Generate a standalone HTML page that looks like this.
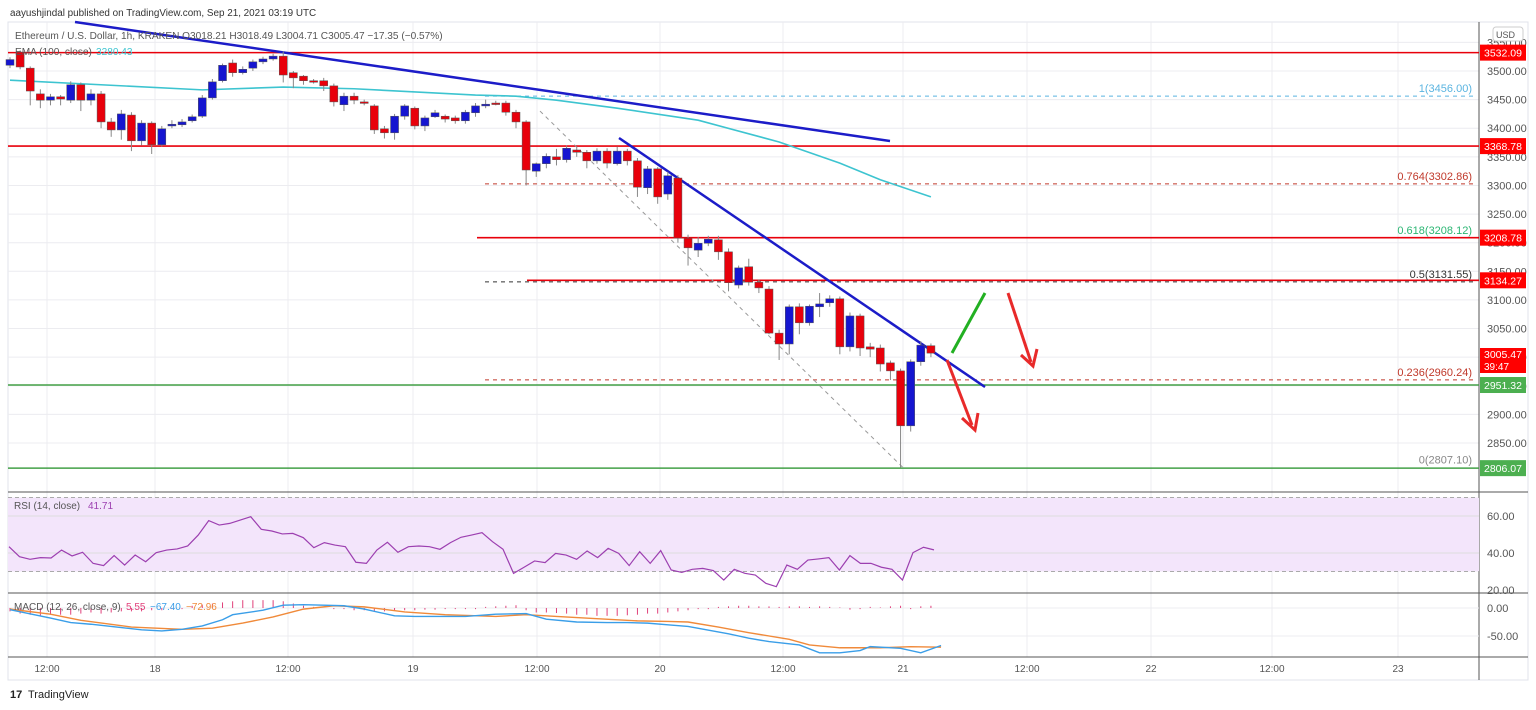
<!DOCTYPE html>
<html><head><meta charset="utf-8"><style>
body{margin:0;background:#fff;font-family:"Liberation Sans",sans-serif;}
svg{display:block}
text{font-family:"Liberation Sans",sans-serif;}
</style></head><body>
<svg id="c" width="1536" height="710" viewBox="0 0 1536 710"></svg>
<script>
const opens=[3510,3533,3505,3460,3449,3455,3449,3476,3449,3460,3411,3397,3423,3378,3409,3371,3404,3406,3413,3421,3453,3483,3514,3497,3505,3516,3521,3526,3497,3491,3483,3483,3474,3441,3456,3446,3439,3399,3392,3421,3435,3404,3420,3421,3418,3413,3427,3439,3444,3444,3428,3411,3325,3338,3350,3345,3362,3358,3343,3360,3338,3360,3343,3296,3329,3285,3313,3208,3187,3199,3205,3184,3126,3158,3131,3119,3042,3023,3088,3060,3088,3095,3102,3018,3072,3018,3016,2990,2976,2880,2992,3020];
const closes=[3520,3507,3465,3449,3455,3451,3476,3449,3460,3411,3397,3425,3378,3409,3371,3399,3407,3411,3420,3453,3481,3510,3497,3503,3516,3521,3526,3493,3488,3483,3482,3474,3446,3456,3449,3445,3397,3392,3421,3439,3404,3418,3427,3416,3413,3428,3439,3442,3443,3428,3411,3327,3338,3351,3345,3365,3358,3343,3360,3339,3360,3343,3297,3329,3280,3317,3208,3191,3199,3206,3184,3130,3156,3131,3121,3042,3023,3088,3060,3089,3093,3102,3018,3072,3016,3014,2988,2976,2880,2992,3021,3007];
const highs=[3524,3536,3508,3468,3460,3458,3482,3480,3468,3465,3418,3432,3428,3414,3412,3404,3414,3416,3424,3458,3486,3513,3520,3508,3520,3525,3530,3534,3500,3493,3486,3488,3478,3462,3462,3450,3442,3404,3425,3442,3438,3422,3432,3424,3422,3432,3444,3450,3448,3448,3432,3414,3340,3356,3364,3370,3368,3362,3365,3365,3368,3364,3348,3334,3332,3324,3318,3214,3210,3212,3212,3190,3160,3172,3136,3124,3048,3092,3094,3092,3112,3108,3106,3078,3076,3025,3022,2994,2980,2996,3028,3024];
const lows=[3505,3503,3440,3435,3440,3440,3444,3430,3440,3400,3385,3380,3360,3370,3355,3368,3400,3402,3410,3418,3450,3480,3490,3494,3500,3512,3518,3480,3470,3476,3478,3465,3438,3430,3442,3440,3390,3382,3380,3415,3398,3395,3418,3410,3408,3408,3420,3435,3440,3422,3400,3300,3315,3330,3335,3340,3350,3330,3338,3330,3335,3335,3280,3285,3268,3275,3200,3160,3175,3194,3170,3115,3120,3125,3112,3040,2995,3005,3040,3055,3070,3088,3005,3010,3002,3000,2975,2960,2807,2870,2985,3000];
const emaIdx=[0,19,27,34,46,50,54,60,68,76,82,86,91];
const emaVals=[3484,3467,3472,3469,3458,3456,3449,3435,3414,3376,3339,3310,3280];
const rsiVals=[43.4,38.0,36.6,37.5,37.3,41.6,38.4,40.4,34.4,33.2,38.6,33.5,38.9,35.3,40.2,41.6,42.2,43.8,49.7,57.5,55.1,56.0,57.8,59.6,52.8,51.9,50.3,50.6,48.3,42.9,45.6,44.3,43.4,35.0,34.4,41.6,45.8,40.4,43.4,43.8,43.4,42.0,45.6,48.5,49.7,51.0,46.1,42.0,29.0,32.3,35.7,34.8,39.8,38.9,36.6,41.1,37.5,42.5,39.8,33.2,40.7,34.4,41.3,30.8,29.5,31.2,31.7,30.5,25.4,31.2,29.0,28.1,23.6,21.8,33.5,31.2,36.2,36.8,37.5,30.8,38.6,34.4,34.4,32.3,31.2,25.4,40.2,43.1,41.7];
const macdIdx=[0,4,6,8,11,13,15,17,19,21,22,25,27,29,31,33,35,38,40,42,45,48,51,53,56,59,61,63,65,67,71,73,75,78,80,82,84,85,88,90,92];
const macdVals=[-3,-18,-26,-29,-35,-39,-41,-38,-32,-21,-12,-4,5,6,5,4,-2,-14,-15,-15,-15,-11,-10,-20,-25,-26,-26,-27,-30,-33,-46,-54,-60,-66,-80,-80,-76,-69,-72,-80,-67];
const sigIdx=[0,4,7,12,17,20,23,26,29,32,35,39,43,48,51,54,58,62,65,67,70,73,77,79,82,86,89,92];
const sigVals=[-2,-11,-22,-34,-38,-36,-27,-16,-2,4,2,-7,-12,-15,-12,-15,-19,-23,-24,-25,-34,-44,-56,-66,-71,-71,-69,-70];
const histVals=[-6,-10,-12,-14,-12,-12,-12,-10,-8,-10,-8,-6,-6,-6,-4,-4,-2,-2,4,6,8,10,12,14,14,14,14,12,8,4,2,0,-2,-2,-4,-4,-6,-6,-4,-4,-4,-3,-3,-2,-2,-2,-2,2,3,4,5,-4,-8,-8,-9,-10,-12,-12,-14,-14,-14,-13,-12,-10,-10,-8,-6,-4,-2,-2,2,3,4,4,3,3,2,3,3,2,3,2,1,-3,-2,2,1,3,4,-2,3,4];
const priceTicks=[3550,3500,3450,3400,3350,3300,3250,3200,3150,3100,3050,3000,2950,2900,2850];
const timeLabels=["12:00","18","12:00","19","12:00","20","12:00","21","12:00","22","12:00","23"];
const timeX=[47,155,288,413,537,660,783,903,1027,1151,1272,1398];

const S=document.getElementById('c');const NS='http://www.w3.org/2000/svg';
function mk(t,a,name,p){const e=document.createElementNS(NS,t);for(const k in a)e.setAttribute(k,a[k]);


(p||S).appendChild(e);return e;}
function tx(x,y,s,o,name){const e=mk('text',Object.assign({x:x,y:y,'font-size':11,fill:'#555'},o||{}),name);e.textContent=s;return e;}
const xI=i=>10+i*10.12;
const yP=p=>71+(3500-p)*0.5723;
const yR=v=>553-(v-40)*1.85;
const yM=v=>608-v*0.56;
const PR=1479;
mk('rect',{x:8,y:22,width:1520,height:658,fill:'none',stroke:'#e0e3eb'},'chart-frame');
priceTicks.forEach(p=>mk('line',{x1:8,x2:PR,y1:yP(p),y2:yP(p),stroke:'#ececf0'},'price-gridline'));
timeX.forEach(x=>mk('line',{x1:x,x2:x,y1:22,y2:657,stroke:'#ececf0'},'time-gridline'));
mk('line',{x1:8,x2:1528,y1:492,y2:492,stroke:'#555'},'pane-separator');
mk('line',{x1:8,x2:1528,y1:593,y2:593,stroke:'#555'},'pane-separator');
mk('line',{x1:8,x2:1528,y1:657,y2:657,stroke:'#555'},'time-axis-line');
mk('line',{x1:PR,x2:PR,y1:22,y2:680,stroke:'#555'},'price-axis-line');
const hl=(p,x1,c,name)=>mk('line',{x1:x1,x2:PR,y1:yP(p),y2:yP(p),stroke:c,'stroke-width':1.6},name);
hl(3532.09,8,'#e8000b','resistance-3532');hl(3368.78,8,'#e8000b','resistance-3368');
hl(3208.78,477,'#e8000b','resistance-3208');hl(3134.27,527,'#e8000b','resistance-3134');
hl(2951.32,8,'#43a047','support-2951');hl(2806.07,8,'#43a047','support-2806');
const fib=[[3456,'#5ab4e0','1(3456.00)'],[3302.86,'#c0392b','0.764(3302.86)'],[3208.12,'#2bb673','0.618(3208.12)'],[3131.55,'#333','0.5(3131.55)'],[2960.24,'#c0392b','0.236(2960.24)'],[2807.1,'#888','0(2807.10)']];
fib.forEach(f=>{if(f[0]!==2807.1&&f[0]!==3208.12)mk('line',{x1:485,x2:1475,y1:yP(f[0]),y2:yP(f[0]),stroke:f[1],'stroke-dasharray':'4,4'},'fib-level');
tx(1472,yP(f[0])-4,f[2],{'text-anchor':'end',fill:f[1],'font-size':11},'fib-label');});
mk('line',{x1:540,y1:yP(3430),x2:903,y2:yP(2807),stroke:'#999','stroke-dasharray':'4,4'},'fib-trend');
mk('polyline',{points:emaIdx.map((i,k)=>xI(i)+','+yP(emaVals[k])).join(' '),fill:'none',stroke:'#3dc4d0','stroke-width':1.6},'ema-100-line');
mk('line',{x1:75,y1:22,x2:890,y2:141,stroke:'#1c1cc8','stroke-width':2.5},'trendline-upper');
mk('line',{x1:619,y1:138,x2:985,y2:387,stroke:'#1c1cc8','stroke-width':2.5},'trendline-lower');
opens.forEach((o,i)=>{const c=closes[i],col=c>=o?'#1515d0':'#e8000b',x=xI(i);
mk('line',{x1:x,x2:x,y1:yP(highs[i]),y2:yP(lows[i]),stroke:'#888'},'candle-wick');
const t=yP(Math.max(o,c)),b=yP(Math.min(o,c));
mk('rect',{x:x-4,y:t,width:8,height:Math.max(1.5,b-t),fill:col,stroke:'#555','stroke-width':0.5},'candle-body');});
mk('line',{x1:947,y1:360,x2:972,y2:425,stroke:'#e82a2a','stroke-width':3},'bear-arrow-1');
mk('path',{d:'M962,418 L975,430 L978,413',fill:'none',stroke:'#e82a2a','stroke-width':3},'bear-arrow-1-head');
mk('line',{x1:952,y1:353,x2:985,y2:293,stroke:'#22b022','stroke-width':3},'bull-line');
mk('line',{x1:1008,y1:293,x2:1031,y2:362,stroke:'#e82a2a','stroke-width':3},'bear-arrow-2');
mk('path',{d:'M1021,355 L1033,366 L1037,349',fill:'none',stroke:'#e82a2a','stroke-width':3},'bear-arrow-2-head');
priceTicks.forEach(p=>tx(1487,yP(p)+4,p.toFixed(2),{fill:'#555'},'price-tick'));
const box=(p,s,c,name)=>{const y=yP(p);mk('rect',{x:1480,y:y-8,width:46,height:16,fill:c},name);tx(1484,y+4,s,{fill:'#fff','font-size':10.5},name+'-text');};
box(3532.09,'3532.09','#ff0000','label-3532');box(3368.78,'3368.78','#ff0000','label-3368');
box(3208.78,'3208.78','#ff0000','label-3208');box(3134.27,'3134.27','#ff0000','label-3134');
box(2951.32,'2951.32','#4caf50','label-2951');box(2806.07,'2806.07','#4caf50','label-2806');
mk('rect',{x:1480,y:348,width:46,height:25,fill:'#ff0000'},'label-last-price');
tx(1484,358,'3005.47',{fill:'#fff','font-size':10.5},'last-price-text');tx(1484,370,'39:47',{fill:'#fff','font-size':10},'countdown-text');
mk('rect',{x:1493,y:27,width:30,height:14,rx:3,fill:'#fff',stroke:'#ccc'},'currency-badge');
tx(1496,38,'USD',{'font-size':9},'currency-text');
mk('rect',{x:8,y:yR(70),width:PR-8,height:yR(30)-yR(70),fill:'#f3e5fb'},'rsi-band');
[70,30].forEach(v=>mk('line',{x1:8,x2:PR,y1:yR(v),y2:yR(v),stroke:'#aaa','stroke-dasharray':'4,3'},'rsi-bound'));
[60,40].forEach(v=>mk('line',{x1:8,x2:PR,y1:yR(v),y2:yR(v),stroke:'#ddd'},'rsi-grid'));
const rsiStep=(934-9)/(rsiVals.length-1);
mk('polyline',{points:rsiVals.map((v,i)=>(9+i*rsiStep)+','+yR(v)).join(' '),fill:'none',stroke:'#9c3fb0','stroke-width':1.2},'rsi-line');
[60,40,20].forEach(v=>tx(1487,yR(v)+4,v.toFixed(2),{},'rsi-tick'));
tx(14,509,'RSI (14, close)',{'font-size':10},'rsi-title');tx(88,509,'41.71',{fill:'#9c3fb0','font-size':10},'rsi-value');
[0,-50].forEach(v=>{mk('line',{x1:8,x2:PR,y1:yM(v),y2:yM(v),stroke:'#ececf0'},'macd-grid');tx(1487,yM(v)+4,v.toFixed(2),{},'macd-tick');});
histVals.forEach((v,i)=>mk('line',{x1:xI(i),x2:xI(i),y1:yM(0),y2:yM(v),stroke:'#e0407a'},'macd-hist-bar'));
mk('polyline',{points:sigIdx.map((i,k)=>xI(i)+','+yM(sigVals[k])).join(' '),fill:'none',stroke:'#f08a3a','stroke-width':1.4},'macd-signal');
mk('polyline',{points:macdIdx.map((i,k)=>xI(i)+','+yM(macdVals[k])).join(' '),fill:'none',stroke:'#3a9ee8','stroke-width':1.4},'macd-line');
tx(14,610,'MACD (12, 26, close, 9)',{'font-size':10},'macd-title');
tx(126,610,'5.55',{fill:'#e0407a','font-size':10},'macd-hist-value');
tx(150,610,'−67.40',{fill:'#3a9ee8','font-size':10},'macd-value');
tx(186,610,'−72.96',{fill:'#f08a3a','font-size':10},'macd-signal-value');
timeLabels.forEach((s,i)=>tx(timeX[i],672,s,{'text-anchor':'middle','font-size':10},'time-label'));
tx(10,16,'aayushjindal published on TradingView.com, Sep 21, 2021 03:19 UTC',{fill:'#333','font-size':9.9},'publish-header');
tx(15,39,'Ethereum / U.S. Dollar, 1h, KRAKEN  O3018.21  H3018.49  L3004.71  C3005.47  −17.35 (−0.57%)',{fill:'#555','font-size':10.1,'xml:space':'preserve'},'symbol-legend');
tx(15,55,'EMA (100, close)',{fill:'#555','font-size':10.1},'ema-legend');
tx(96,55,'3280.43',{fill:'#3dc4d0','font-size':10.1},'ema-value');
tx(10,698,'17',{fill:'#222','font-size':11,'font-weight':'bold'},'tv-logo');
tx(28,698,'TradingView',{fill:'#222','font-size':11},'tv-brand');
</script>
</body></html>
